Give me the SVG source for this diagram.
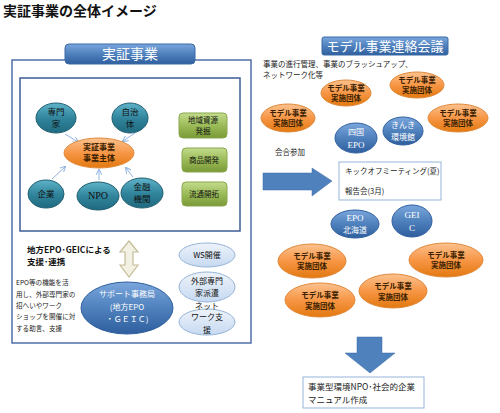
<svg xmlns="http://www.w3.org/2000/svg" width="500" height="413" viewBox="0 0 500 413">
<style>
text{font-family:"Noto Sans CJK JP","Noto Sans",sans-serif;}
.t9{font-size:8.5px;fill:#222;}
.ob{font-size:8px;font-weight:bold;fill:#3a2000;text-anchor:middle;}
.tl{font-size:8.5px;fill:#111;text-anchor:middle;}
.wt{fill:#fff;text-anchor:middle;}
.conn{stroke:#8db3e2;stroke-width:1;fill:none;marker-end:url(#ah);}
</style>
<defs>
<linearGradient id="gOr" x1="0" y1="0" x2="0" y2="1"><stop offset="0" stop-color="#fbc28f"/><stop offset="0.5" stop-color="#f79646"/><stop offset="1" stop-color="#e2790f"/></linearGradient>
<linearGradient id="gTe" x1="0" y1="0" x2="0" y2="1"><stop offset="0" stop-color="#5fb3c9"/><stop offset="0.5" stop-color="#31859c"/><stop offset="1" stop-color="#1f6a80"/></linearGradient>
<linearGradient id="gBl" x1="0" y1="0" x2="0" y2="1"><stop offset="0" stop-color="#7aa6dc"/><stop offset="0.5" stop-color="#4f81bd"/><stop offset="1" stop-color="#2f5f9e"/></linearGradient>
<linearGradient id="gGr" x1="0" y1="0" x2="0" y2="1"><stop offset="0" stop-color="#c3dc8c"/><stop offset="0.5" stop-color="#9bbb59"/><stop offset="1" stop-color="#7a9a38"/></linearGradient>
<linearGradient id="gLb" x1="0" y1="0" x2="0" y2="1"><stop offset="0" stop-color="#eef3fa"/><stop offset="1" stop-color="#c6d9f1"/></linearGradient>
<marker id="ah" markerWidth="6" markerHeight="6" refX="5" refY="3" orient="auto" markerUnits="userSpaceOnUse"><path d="M0,0 L6,3 L0,6" fill="none" stroke="#8db3e2" stroke-width="1"/></marker>
</defs>
<rect width="500" height="413" fill="#fff"/>
<text x="3" y="16" style="font-size:14px;font-weight:bold;fill:#111">実証事業の全体イメージ</text>

<g id="left-panel">
<rect x="12" y="60" width="239" height="283" fill="none" stroke="#4f6fa8" stroke-width="1.5"/>
<rect x="20" y="78" width="220" height="153" fill="#fff" stroke="#3d5c95" stroke-width="1.5"/>
</g>
<g id="tab-jissho">
<rect x="65" y="44" width="130" height="20" rx="4" fill="url(#gBl)" stroke="#3a6aa8"/>
<text x="130" y="59" class="wt" style="font-size:14px">実証事業</text>
</g>

<g id="connectors">
<line x1="65" y1="134" x2="78" y2="142" class="conn"/>
<line x1="135" y1="133" x2="123" y2="141" class="conn"/>
<line x1="52" y1="179" x2="65" y2="167" class="conn"/>
<line x1="99" y1="180" x2="99" y2="170" class="conn"/>
<line x1="133" y1="177" x2="126" y2="168" class="conn"/>
</g>

<g id="n-senmonka"><ellipse cx="56" cy="118" rx="20" ry="15" fill="url(#gTe)" stroke="#205e70"/><text x="56" y="115" class="tl">専門</text><text x="56" y="127" class="tl">家</text></g>
<g id="n-jichitai"><ellipse cx="130" cy="118" rx="18" ry="15" fill="url(#gTe)" stroke="#205e70"/><text x="130" y="115" class="tl">自治</text><text x="130" y="127" class="tl">体</text></g>
<g id="n-kigyo"><ellipse cx="46" cy="194" rx="18" ry="14" fill="url(#gTe)" stroke="#205e70"/><text x="46" y="197" class="tl">企業</text></g>
<g id="n-npo"><ellipse cx="98" cy="196" rx="21" ry="14" fill="url(#gTe)" stroke="#205e70"/><text x="98" y="199" class="tl" style="font-family:'Liberation Serif',serif;font-size:10px">NPO</text></g>
<g id="n-kinyu"><ellipse cx="142" cy="193" rx="21" ry="15" fill="url(#gTe)" stroke="#205e70"/><text x="142" y="190" class="tl">金融</text><text x="142" y="202" class="tl">機関</text></g>
<g id="n-shutai"><ellipse cx="99" cy="153" rx="35" ry="15" fill="url(#gOr)" stroke="#e08a3c"/><text x="99" y="150" class="ob">実証事業</text><text x="99" y="161" class="ob">事業主体</text></g>

<g id="n-chiiki"><rect x="179" y="113" width="48" height="25" rx="4" fill="url(#gGr)" stroke="#8aa84c"/><text x="203" y="123" class="tl" style="font-size:7.5px">地域資源</text><text x="203" y="134" class="tl" style="font-size:7.5px">発掘</text></g>
<g id="n-shohin"><rect x="182" y="148" width="45" height="24" rx="4" fill="url(#gGr)" stroke="#8aa84c"/><text x="204" y="163" class="tl" style="font-size:7.5px">商品開発</text></g>
<g id="n-ryutsu"><rect x="182" y="182" width="45" height="24" rx="4" fill="url(#gGr)" stroke="#8aa84c"/><text x="204" y="197" class="tl" style="font-size:7.5px">流通開拓</text></g>

<g id="dbl-arrow">
<path d="M129,241 L138,252 L133,252 L133,265 L138,265 L129,277 L120,265 L125,265 L125,252 L120,252 Z" fill="#f3f1e4" stroke="#c4bd97" stroke-width="1.2"/>
</g>
<text x="27" y="253" style="font-size:8.5px;font-weight:bold;fill:#111">地方EPO･GEICによる</text>
<text x="27" y="265" style="font-size:8.5px;font-weight:bold;fill:#111">支援･連携</text>
<g id="support-note">
<text x="16" y="285" class="t9" style="font-size:6.6px">EPO等の機能を活</text>
<text x="16" y="297" class="t9" style="font-size:6.6px">用し、外部専門家の</text>
<text x="16" y="308" class="t9" style="font-size:6.6px">招へいやワーク</text>
<text x="16" y="319" class="t9" style="font-size:6.6px">ショップを開催に対</text>
<text x="16" y="331" class="t9" style="font-size:6.6px">する助言、支援</text>
</g>
<g id="n-support"><ellipse cx="127" cy="308" rx="46" ry="26" fill="url(#gBl)" stroke="#2f5f9e"/>
<text x="127" y="297" class="wt" style="font-size:8px">サポート事務局</text>
<text x="127" y="310" class="wt" style="font-size:8px">(地方EPO</text>
<text x="127" y="322" class="wt" style="font-size:8px">・ＧＥＩＣ)</text></g>
<g id="n-ws"><ellipse cx="207" cy="255" rx="28" ry="12" fill="url(#gLb)" stroke="#95b3d7"/><text x="207" y="258" class="tl" style="font-size:8px">WS開催</text></g>
<g id="n-haken"><ellipse cx="207" cy="287" rx="28" ry="15" fill="url(#gLb)" stroke="#95b3d7"/><text x="207" y="284" class="tl" style="font-size:8px">外部専門</text><text x="207" y="296" class="tl" style="font-size:8px">家派遣</text></g>
<g id="n-network"><ellipse cx="207" cy="322" rx="28" ry="13" fill="url(#gLb)" stroke="#95b3d7"/><text x="207" y="309" class="tl" style="font-size:8px">ネット</text><text x="207" y="320" class="tl" style="font-size:8px">ワーク支</text><text x="207" y="333" class="tl" style="font-size:8px">援</text></g>

<g id="tab-model">
<rect x="322" y="37" width="126" height="18" rx="2" fill="url(#gBl)" stroke="#3a6aa8"/>
<text x="385" y="51" class="wt" style="font-size:13px">モデル事業連絡会議</text>
</g>
<text x="263" y="67" class="t9" style="font-size:7.5px">事業の進行管理、事業のブラッシュアップ、</text>
<text x="263" y="78" class="t9" style="font-size:7.5px">ネットワーク化等</text>

<g id="m1"><ellipse cx="346" cy="93" rx="25" ry="13" fill="url(#gOr)" stroke="#e08a3c"/><text x="346" y="91" class="ob" style="font-size:7.5px">モデル事業</text><text x="346" y="101" class="ob" style="font-size:7.5px">実施団体</text></g>
<g id="m2"><ellipse cx="417" cy="85" rx="27" ry="13" fill="url(#gOr)" stroke="#e08a3c"/><text x="417" y="83" class="ob" style="font-size:7.5px">モデル事業</text><text x="417" y="93" class="ob" style="font-size:7.5px">実施団体</text></g>
<g id="m3"><ellipse cx="288" cy="118" rx="27" ry="14" fill="url(#gOr)" stroke="#e08a3c"/><text x="288" y="116" class="ob" style="font-size:7.5px">モデル事業</text><text x="288" y="126" class="ob" style="font-size:7.5px">実施団体</text></g>
<g id="m4"><ellipse cx="458" cy="118" rx="30" ry="14" fill="url(#gOr)" stroke="#e08a3c"/><text x="458" y="116" class="ob" style="font-size:7.5px">モデル事業</text><text x="458" y="126" class="ob" style="font-size:7.5px">実施団体</text></g>
<g id="b-shikoku"><ellipse cx="356" cy="138" rx="21" ry="15" fill="url(#gBl)" stroke="#2f5f9e"/><text x="356" y="135" class="wt" style="font-size:8px">四国</text><text x="356" y="148" class="wt" style="font-size:9px;font-family:'Liberation Serif',serif">EPO</text></g>
<g id="b-kinki"><ellipse cx="403" cy="131" rx="20" ry="14" fill="url(#gBl)" stroke="#2f5f9e"/><text x="403" y="128" class="wt" style="font-size:8px">きんき</text><text x="403" y="140" class="wt" style="font-size:8px">環境館</text></g>
<text x="275" y="155" class="t9" style="font-size:7.5px">会合参加</text>

<g id="big-arrow"><path d="M263,173 L312,173 L312,168 L332,181 L312,196 L312,190 L263,190 Z" fill="#4f81bd" stroke="#3a6aa8" stroke-width="0.5"/></g>
<g id="n-kickoff"><rect x="339" y="162" width="102" height="38" fill="#fff" stroke="#95b3d7"/>
<text x="345" y="174" class="t9" style="font-size:7.5px">キックオフミーティング(夏)</text>
<text x="345" y="194" class="t9" style="font-size:7.5px">報告会(3月)</text></g>

<g id="b-hokkaido"><ellipse cx="355" cy="224" rx="24" ry="14" fill="url(#gBl)" stroke="#2f5f9e"/><text x="355" y="221" class="wt" style="font-size:9px;font-family:'Liberation Serif',serif">EPO</text><text x="355" y="233" class="wt" style="font-size:8px">北海道</text></g>
<g id="b-geic"><ellipse cx="412" cy="221" rx="20" ry="16" fill="url(#gBl)" stroke="#2f5f9e"/><text x="412" y="218" class="wt" style="font-size:9px;font-family:'Liberation Serif',serif">GEI</text><text x="412" y="231" class="wt" style="font-size:9px;font-family:'Liberation Serif',serif">C</text></g>

<g id="m5"><ellipse cx="312" cy="261" rx="34" ry="17" fill="url(#gOr)" stroke="#e08a3c"/><text x="312" y="259" class="ob" style="font-size:7.5px">モデル事業</text><text x="312" y="269" class="ob" style="font-size:7.5px">実施団体</text></g>
<g id="m6"><ellipse cx="446" cy="260" rx="37" ry="17" fill="url(#gOr)" stroke="#e08a3c"/><text x="446" y="258" class="ob" style="font-size:7.5px">モデル事業</text><text x="446" y="268" class="ob" style="font-size:7.5px">実施団体</text></g>
<g id="m7"><ellipse cx="393" cy="291" rx="34" ry="17" fill="url(#gOr)" stroke="#e08a3c"/><text x="393" y="289" class="ob" style="font-size:7.5px">モデル事業</text><text x="393" y="300" class="ob" style="font-size:7.5px">実施団体</text></g>
<g id="m8"><ellipse cx="320" cy="300" rx="35" ry="17" fill="url(#gOr)" stroke="#e08a3c"/><text x="320" y="298" class="ob" style="font-size:7.5px">モデル事業</text><text x="320" y="309" class="ob" style="font-size:7.5px">実施団体</text></g>

<g id="down-arrow"><path d="M357,337 L382,337 L382,353 L395,353 L370,373 L345,353 L357,353 Z" fill="#4f81bd" stroke="#3a6aa8" stroke-width="0.5"/></g>
<g id="n-manual"><rect x="303" y="377" width="121" height="31" fill="#fff" stroke="#95b3d7"/>
<text x="308" y="390" class="t9" style="font-size:8.5px">事業型環境NPO･社会的企業</text>
<text x="308" y="403" class="t9" style="font-size:8.5px">マニュアル作成</text></g>
</svg>
